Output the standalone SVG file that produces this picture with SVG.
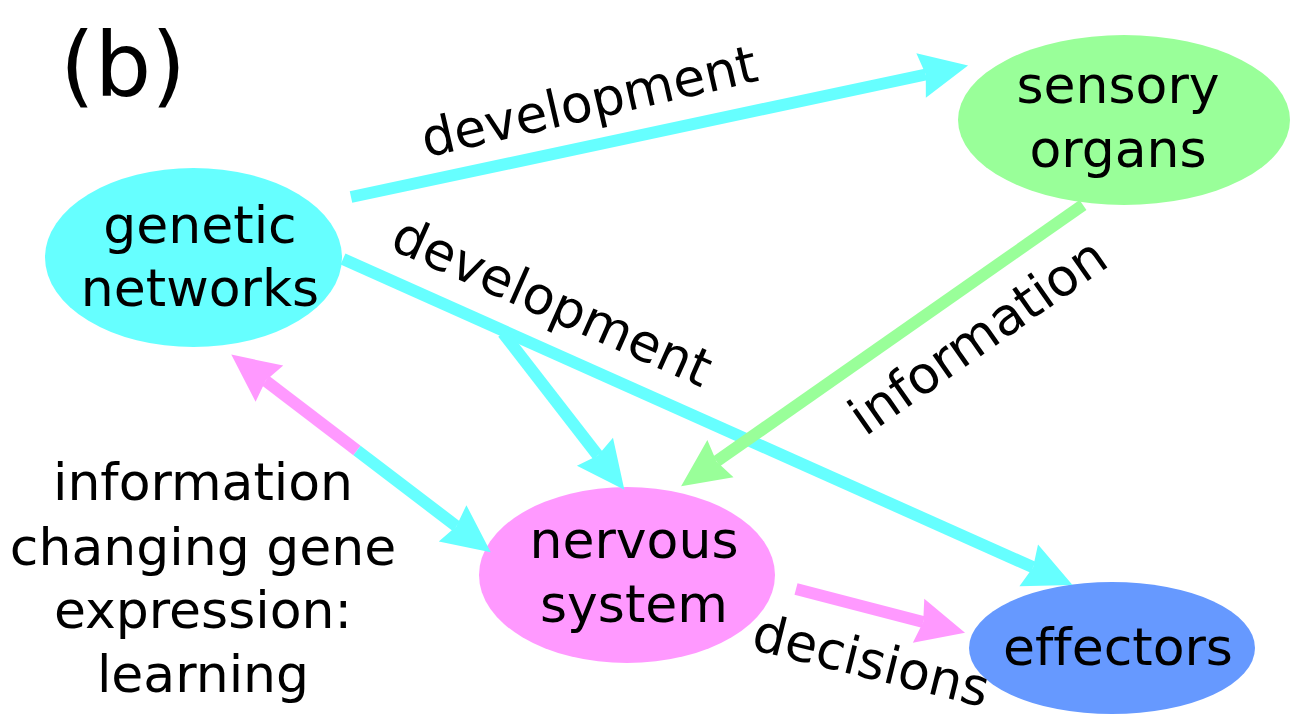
<svg xmlns="http://www.w3.org/2000/svg" width="1307" height="718" viewBox="0 0 1307 718">
<style>
text{font-family:"DejaVu Sans","Liberation Sans",sans-serif;font-size:52px;fill:#000;text-anchor:middle;font-variant-ligatures:none}
.c{stroke:#66ffff}
.g{stroke:#99ff99}
.p{stroke:#ff99ff}
.ln{stroke-width:12;fill:none;stroke-linecap:butt}
</style>
<defs>
<marker id="ac" markerUnits="userSpaceOnUse" orient="auto" refX="0" refY="0" markerWidth="60" markerHeight="60" viewBox="-10 -25 50 50" overflow="visible"><path d="M36 0 L-4 -19 L0 0 L-4 19 Z" fill="#66ffff"/></marker>
<marker id="ag" markerUnits="userSpaceOnUse" orient="auto" refX="0" refY="0" markerWidth="60" markerHeight="60" viewBox="-10 -25 50 50" overflow="visible"><path d="M36 0 L-4 -19 L0 0 L-4 19 Z" fill="#99ff99"/></marker>
<marker id="ap" markerUnits="userSpaceOnUse" orient="auto" refX="0" refY="0" markerWidth="60" markerHeight="60" viewBox="-10 -25 50 50" overflow="visible"><path d="M36 0 L-4 -19 L0 0 L-4 19 Z" fill="#ff99ff"/></marker>
</defs>
<rect width="1307" height="718" fill="#fff"/>
<text x="123" y="96" style="font-size:89px">(b)</text>
<g id="genetic">
<ellipse cx="193.5" cy="257.5" rx="148.5" ry="89.5" fill="#66ffff"/>
<text x="200" y="243">genetic</text>
<text x="200" y="306">networks</text>
</g>
<g id="sensory">
<ellipse cx="1124" cy="120" rx="166" ry="85" fill="#99ff99"/>
<text x="1118" y="103">sensory</text>
<text x="1118" y="167">organs</text>
</g>
<g id="nervous">
<ellipse cx="627" cy="575" rx="148" ry="88" fill="#ff99ff"/>
<text x="634" y="558">nervous</text>
<text x="634" y="622">system</text>
</g>
<g id="effectors">
<ellipse cx="1112" cy="648" rx="143" ry="66" fill="#6699ff"/>
<text x="1118" y="665">effectors</text>
</g>
<g id="connectors">
<line class="ln c" x1="351" y1="197" x2="925.8" y2="74.5" marker-end="url(#ac)"/>
<line class="ln c" x1="343" y1="259" x2="1033.1" y2="567.3" marker-end="url(#ac)"/>
<line class="ln c" x1="503" y1="333" x2="597.9" y2="455.5" marker-end="url(#ac)"/>
<line class="ln g" x1="1083" y1="205" x2="716.5" y2="461.4" marker-end="url(#ag)"/>
<line class="ln p" x1="357" y1="450.5" x2="265.6" y2="380.8" marker-end="url(#ap)"/>
<line class="ln c" x1="357" y1="450.5" x2="456.4" y2="526.2" marker-end="url(#ac)"/>
<line class="ln p" x1="796" y1="589" x2="923.2" y2="622" marker-end="url(#ap)"/>
</g>
<g id="labels">
<text transform="translate(593,119) rotate(-13)">development</text>
<text transform="translate(545,318) rotate(24)">development</text>
<text transform="translate(988,351) rotate(-35)">information</text>
<text transform="translate(867,678) rotate(14)">decisions</text>
<text x="203" y="500">information</text>
<text x="203" y="565">changing gene</text>
<text x="203" y="628">expression:</text>
<text x="203" y="692">learning</text>
</g>
</svg>
